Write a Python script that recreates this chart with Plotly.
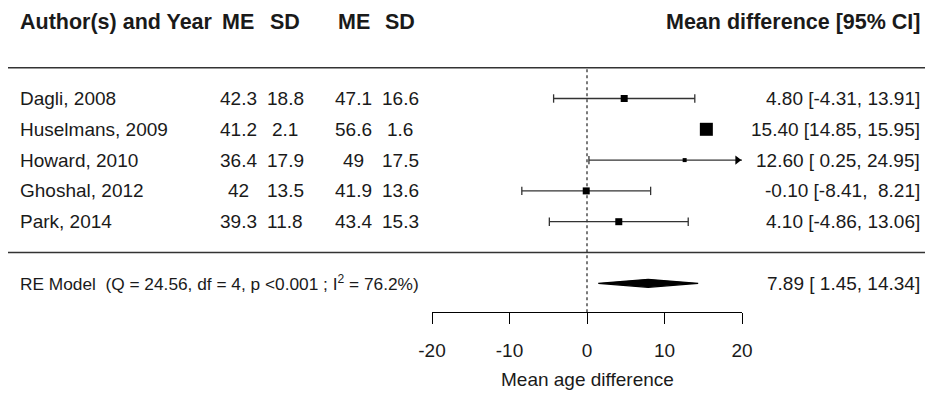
import plotly.graph_objects as go

# ---------------- data ----------------
studies = ["Dagli, 2008", "Huselmans, 2009", "Howard, 2010", "Ghoshal, 2012", "Park, 2014"]
me1 = ["42.3", "41.2", "36.4", "42", "39.3"]
sd1 = ["18.8", "2.1", "17.9", "13.5", "11.8"]
me2 = ["47.1", "56.6", "49", "41.9", "43.4"]
sd2 = ["16.6", "1.6", "17.5", "13.6", "15.3"]
est = [4.80, 15.40, 12.60, -0.10, 4.10]
lb = [-4.31, 14.85, 0.25, -8.41, -4.86]
ub = [13.91, 15.95, 24.95, 8.21, 13.06]
re_est, re_lb, re_ub = 7.89, 1.45, 14.34
re_label = "RE Model  (Q = 24.56, df = 4, p <0.001 ; I<sup>2</sup> = 76.2%)"
xticks = [-20, -10, 0, 10, 20]
xtick_labels = ["-20", "-10", "0", "10", "20"]
x_title = "Mean age difference"

# ---------------- styles / layout ----------------
psize = [7, 13, 4, 7, 7]
PAGE_W, PAGE_H = 933, 399
OFF = 8                      # default body margin of the page
W, H = PAGE_W - 2 * OFF, PAGE_H - 2 * OFF
FONT = "Liberation Sans, Arial, sans-serif"
TXT = "#1a1a1a"
LINE = "#333333"
xlim = [-20, 20]
rows = [5, 4, 3, 2, 1]
re_y = -1
header_y = 7.5
top_line_y = 6
mid_line_y = 0
axis_y = -1.94
row_px, y5_px = 30.8, 98.5   # page pixels
ymax = 5 + (y5_px - OFF) / row_px
ymin = 5 - (OFF + H - y5_px) / row_px


def ypap(y):
    return (y - ymin) / (ymax - ymin)


def xp(px):  # page pixel -> paper fraction
    return (px - OFF) / W


fig = go.Figure()

# CI lines
cx, cy = [], []
capx, capy = [], []
arrx, arry = [], []
for e, l, u, r, s in zip(est, lb, ub, rows, psize):
    wide = (u - l) * 7.75 > s + 2
    if not wide:
        continue
    lo, hi = max(l, xlim[0]), min(u, xlim[1])
    cx += [lo, hi, None]
    cy += [r, r, None]
    if l >= xlim[0]:
        capx.append(l); capy.append(r)
    if u <= xlim[1]:
        capx.append(u); capy.append(r)
    else:
        arrx.append(xlim[1] - 0.6); arry.append(r)

fig.add_trace(go.Scatter(x=cx, y=cy, mode="lines", line=dict(color=LINE, width=1.3),
                         hoverinfo="skip", showlegend=False))
fig.add_trace(go.Scatter(x=capx, y=capy, mode="markers",
                         marker=dict(symbol="line-ns", size=6, line=dict(color=LINE, width=1.3)),
                         hoverinfo="skip", showlegend=False, cliponaxis=False))
fig.add_trace(go.Scatter(x=arrx, y=arry, mode="markers",
                         marker=dict(symbol="triangle-right", size=8, color="black"),
                         hoverinfo="skip", showlegend=False, cliponaxis=False))

# RE diamond
h = 0.13
fig.add_trace(go.Scatter(x=[re_lb, re_est, re_ub, re_est, re_lb],
                         y=[re_y, re_y + h, re_y, re_y - h, re_y],
                         mode="lines", fill="toself", fillcolor="black",
                         line=dict(color="black", width=1.2), showlegend=False))

# study squares (on top)
fig.add_trace(go.Scatter(x=est, y=rows, mode="markers",
                         marker=dict(symbol="square", size=psize, color="#000000", opacity=1,
                                     line=dict(width=0, color="#000000")),
                         showlegend=False))

shapes = [
    dict(type="line", xref="paper", yref="y", x0=0, x1=1, y0=top_line_y, y1=top_line_y,
         line=dict(color=LINE, width=1.6)),
    dict(type="line", xref="paper", yref="y", x0=0, x1=1, y0=mid_line_y, y1=mid_line_y,
         line=dict(color=LINE, width=1.6)),
    dict(type="line", xref="x", yref="y", x0=0, x1=0, y0=axis_y, y1=top_line_y,
         line=dict(color=LINE, width=1.3, dash="dot"), layer="below"),
]

ann = []


def add_text(text, x, y, anchor, size=19, bold=False):
    ann.append(dict(text=("<b>%s</b>" % text) if bold else text, x=x, y=y, xref="paper", yref="y",
                    xanchor=anchor, yanchor="middle", showarrow=False,
                    font=dict(family=FONT, size=size, color=TXT)))


col_px = [238.5, 285, 353.5, 400]
HB = 21.5
add_text("Author(s) and Year", xp(18), header_y, "left", HB, True)
for c, lab in zip(col_px, ["ME", "SD", "ME", "SD"]):
    add_text(lab, xp(c), header_y, "center", HB, True)
add_text("Mean difference [95% CI]", xp(922), header_y, "right", HB, True)

for i, r in enumerate(rows):
    add_text(studies[i], xp(18), r, "left")
    for c, col in zip(col_px, [me1, sd1, me2, sd2]):
        add_text(col[i], xp(c), r, "center")
    ci = "%.2f [%5.2f, %5.2f]" % (est[i], lb[i], ub[i])
    add_text(ci.replace(" ", "&nbsp;"), xp(922), r, "right")

add_text(re_label, xp(18), re_y, "left", 17.3)
re_ci = "%.2f [%5.2f, %5.2f]" % (re_est, re_lb, re_ub)
add_text(re_ci.replace(" ", "&nbsp;"), xp(922), re_y, "right")

ann.append(dict(text=x_title, x=0, y=1 - (379 - OFF) / H, xref="x", yref="paper", xanchor="center",
                yanchor="middle", showarrow=False, font=dict(family=FONT, size=19, color=TXT)))

fig.update_layout(
    width=W, height=H, autosize=False, margin=dict(l=0, r=0, t=0, b=0, pad=0),
    paper_bgcolor="white", plot_bgcolor="white",
    xaxis=dict(domain=[xp(432), xp(742)], range=xlim, anchor="free", position=ypap(axis_y),
               showline=True, linecolor="black", linewidth=1.3, ticks="outside", ticklen=11,
               tickwidth=1.3, tickcolor="black", tickvals=xticks, ticktext=xtick_labels,
               showgrid=False, zeroline=False, automargin=False,
               tickfont=dict(family=FONT, size=19, color=TXT), ticklabelstandoff=10),
    yaxis=dict(domain=[0, 1], range=[ymin, ymax], visible=False, showgrid=False, zeroline=False,
               automargin=False),
    shapes=shapes, annotations=ann, showlegend=False,
)

fig.write_html("out.html")
